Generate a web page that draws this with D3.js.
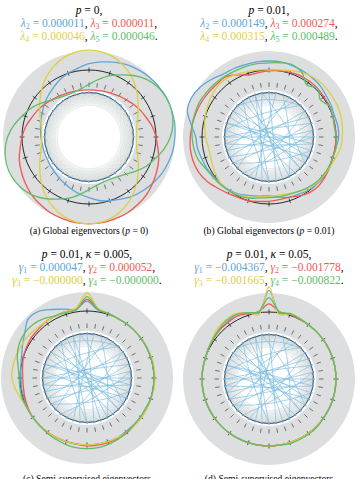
<!DOCTYPE html>
<html>
<head>
<meta charset="utf-8">
<script src="https://cdn.jsdelivr.net/npm/d3@7"></script>
<style>
  body { margin: 0; background: #fff; }
  svg { display: block; font-family: "Liberation Serif", "DejaVu Serif", serif; }
</style>
</head>
<body>
<div id="vis"></div>
<script>
const FRAME_WIDTH = 359;
const FRAME_HEIGHT = 479;

const N_NODES = 40;
const RING_K = 10;
const COLORS = ["#5DA5DA", "#F15854", "#DECF3F", "#60BD68"];

// title / caption text
const pValues = ["0", "0.01", "0.01", "0.01"];
const kappaValues = [null, null, "0.005", "0.05"];
const symbols = ["λ", "λ", "γ", "γ"];
const subscripts = [["2", "3", "4", "5"], ["2", "3", "4", "5"], ["1", "2", "3", "4"], ["1", "2", "3", "4"]];
const eigA = ["0.000011", "0.000011", "0.000046", "0.000046"];
const eigB = ["0.000149", "0.000274", "0.000315", "0.000489"];
const eigC = ["0.000047", "0.000052", "−0.000000", "−0.000000"];
const eigD = ["−0.004367", "−0.001778", "−0.001665", "−0.000822"];
const captions = [
  ["(a) Global eigenvectors (", "p", " = 0)"],
  ["(b) Global eigenvectors (", "p", " = 0.01)"],
  ["(c) Semi-supervised eigenvectors"],
  ["(d) Semi-supervised eigenvectors"]
];

// eigenvector entries, one per node (node 0 at top, clockwise)
const vecA1 = [0.07,0.10,0.13,0.16,0.18,0.20,0.21,0.22,0.22,0.22,0.21,0.20,0.18,0.16,0.13,0.10,0.07,0.03,0.00,-0.03,-0.07,-0.10,-0.13,-0.16,-0.18,-0.20,-0.21,-0.22,-0.22,-0.22,-0.21,-0.20,-0.18,-0.16,-0.13,-0.10,-0.07,-0.03,0.00,0.03];
const vecA2 = [-0.22,-0.22,-0.21,-0.20,-0.18,-0.16,-0.13,-0.10,-0.07,-0.03,0.00,0.03,0.07,0.10,0.13,0.16,0.18,0.20,0.21,0.22,0.22,0.22,0.21,0.20,0.18,0.16,0.13,0.10,0.07,0.03,0.00,-0.03,-0.07,-0.10,-0.13,-0.16,-0.18,-0.20,-0.21,-0.22];
const vecA3 = [0.22,0.21,0.18,0.13,0.07,0.00,-0.07,-0.13,-0.18,-0.21,-0.22,-0.21,-0.18,-0.13,-0.07,0.00,0.07,0.13,0.18,0.21,0.22,0.21,0.18,0.13,0.07,0.00,-0.07,-0.13,-0.18,-0.21,-0.22,-0.21,-0.18,-0.13,-0.07,0.00,0.07,0.13,0.18,0.21];
const vecA4 = [-0.16,-0.10,-0.03,0.03,0.10,0.16,0.20,0.22,0.22,0.20,0.16,0.10,0.03,-0.03,-0.10,-0.16,-0.20,-0.22,-0.22,-0.20,-0.16,-0.10,-0.03,0.03,0.10,0.16,0.20,0.22,0.22,0.20,0.16,0.10,0.03,-0.03,-0.10,-0.16,-0.20,-0.22,-0.22,-0.20];

const vecB1 = [0.10,0.10,0.09,0.08,0.07,0.06,0.04,0.03,0.02,0.03,0.03,0.01,0.00,0.01,0.01,0.00,-0.01,-0.03,-0.04,-0.07,-0.09,-0.08,-0.06,-0.03,-0.01,0.00,0.01,0.03,0.04,0.06,0.07,0.13,0.21,0.22,0.20,0.16,0.12,0.11,0.10,0.10];
const vecB2 = [-0.01,0.00,0.01,0.02,0.02,0.02,0.01,0.01,0.00,0.00,0.00,0.00,0.00,0.01,0.02,0.03,0.02,-0.01,-0.04,-0.04,-0.03,-0.02,0.00,0.01,0.03,0.06,0.10,0.13,0.14,0.14,0.13,0.12,0.11,0.10,0.09,0.08,0.08,0.03,-0.02,-0.02];
const vecB3 = [0.00,0.01,0.03,0.06,0.08,0.09,0.09,0.09,0.09,0.08,0.07,0.06,0.03,0.01,0.00,-0.01,-0.03,-0.06,-0.08,-0.09,-0.08,-0.07,-0.04,-0.02,0.00,0.00,-0.02,-0.04,-0.06,-0.06,-0.04,-0.02,0.00,0.02,0.04,0.06,0.06,0.04,0.02,0.01];
const vecB4 = [0.08,0.09,0.10,0.06,-0.03,0.02,-0.04,0.01,0.00,-0.01,0.00,0.01,0.00,0.00,-0.01,-0.02,-0.04,-0.06,-0.07,-0.07,-0.07,-0.06,-0.03,-0.01,0.00,0.01,0.02,0.04,0.08,0.10,0.11,0.12,0.12,0.12,0.11,0.10,0.09,0.08,0.08,0.08];

const vecC1 = [0.11,0.02,0.01,0,0,0,0,0,0,0,0,0,0,-0.01,-0.01,-0.01,-0.01,0,0,0,0,0,0,0,0,0,0,0,-0.01,-0.01,-0.01,0,0.02,0.06,0.11,0.18,0.17,0.11,0.06,0.03];
const vecC2 = [0.13,0.03,0.01,0,0,0,0,0,0,0,0,0,0,0,0,0,0.01,0.01,0.01,0.01,0.01,0,0,0,0,0,0,-0.01,-0.02,-0.03,-0.03,-0.02,0,0.01,0.02,0.02,0.03,0.03,0.03,0.03];
const vecC3 = [0.20,0.04,0.01,0,0,0,0,0,0.01,0.01,0.01,0.01,0,0,0,0,0,0,0,0,0,0,0,0,0,0,0,0,0.02,0.06,0.09,0.09,0.08,0.07,0.06,0.04,0.03,0.03,0.03,0.04];
const vecC4 = [0.16,0.03,0.01,0,0,0,0,0,0,0,0,0,0,-0.01,-0.01,-0.01,0,0.02,0.03,0.04,0.04,0.04,0.03,0.02,0.01,0,0,0,0.01,0.01,0.01,0.03,0.07,0.10,0.11,0.10,0.07,0.03,0.02,0.02];

const vecD1 = [0.24,0,0.01,0.01,0,0,0,0,0,0,0,0,0,0,0,0,0,0,0,0,0,0,0,0,0,0,0,0,0,0,0,0,0,0.01,0.02,0.03,0.04,0.06,0.03,0];
const vecD2 = [0.09,0.01,0.01,0,0,0,0,0,0,0,0,0,0,0,0,0,0,0,0,0,0,0,0,0,0,0,0,0,0,0,0,0,0,0.01,0.02,0.03,0.03,0.04,0.02,0.01];
const vecD3 = [0.28,-0.02,0.02,0.01,0,0,0,0,0,0,0,0,0,0,0,0,0,0,0,0,0,0,0,0,0,0,0,0,0,0,0,0,0,0.01,0.03,0.06,0.07,0.07,0.03,-0.02];
const vecD4 = [0.16,0.01,0.02,0.01,0,0,0,0,0,0,0,0,0,0,0,0.01,0.01,0.01,0.01,0,0,0,0,0,0,0,0,0,0,0,0,0,0,0.01,0.02,0.04,0.06,0.06,0.03,0.01];

// rewired long-range edges (node pairs), shared by panels b-d
const randomEdges = [[0,19],[1,22],[2,17],[3,25],[4,28],[5,31],[6,27],[7,29],[8,30],[9,28],[10,27],[11,29],[11,32],[12,26],[13,31],[14,33],[15,35],[16,34],[17,37],[18,38],[20,36],[21,39],[23,6],[24,9],[26,8],[30,10],[32,12],[34,13],[36,15],[38,20],[39,14],[35,5]];

const PANELS = [
  {cx: 89, cy: 137, titleY: 14, capY: 234, eig: eigA, vecs: [vecA1, vecA2, vecA3, vecA4], rewired: false},
  {cx: 269, cy: 137, titleY: 14, capY: 234, eig: eigB, vecs: [vecB1, vecB2, vecB3, vecB4], rewired: true},
  {cx: 87, cy: 378, titleY: 258, capY: 482, eig: eigC, vecs: [vecC1, vecC2, vecC3, vecC4], rewired: true},
  {cx: 269, cy: 379, titleY: 258, capY: 482, eig: eigD, vecs: [vecD1, vecD2, vecD3, vecD4], rewired: true}
];

const R_DISK = 86;
const R_WHITE = 47;
const R_NODE = 44.5;
const R0 = 67;

const FRAME = d3.select("#vis")
  .append("svg")
    .attr("width", FRAME_WIDTH)
    .attr("height", FRAME_HEIGHT);

const ANGLE = d3.scaleLinear().domain([0, N_NODES]).range([0, 2 * Math.PI]);
const R_SCALE = d3.scaleLinear().domain([0, 1]).range([R0, R0 + 90]);

function polar(r, a) {
  return [r * Math.sin(a), -r * Math.cos(a)];
}

function addTitle(g, k, y) {
  const title = g.append("text")
    .attr("text-anchor", "middle")
    .attr("y", y)
    .attr("font-size", 11.5);
  const l1 = title.append("tspan").attr("x", 0);
  l1.append("tspan").attr("font-style", "italic").text("p");
  l1.append("tspan").text(" = " + pValues[k] + ",");
  if (kappaValues[k] !== null) {
    l1.append("tspan").attr("font-style", "italic").text(" κ");
    l1.append("tspan").text(" = " + kappaValues[k] + ",");
  }
  const eig = PANELS[k].eig;
  [[0, 1, ","], [2, 3, "."]].forEach((pair, li) => {
    const line = title.append("tspan").attr("x", 0).attr("dy", li === 0 ? 13 : 12.5);
    pair.slice(0, 2).forEach((j, jj) => {
      if (jj === 1) line.append("tspan").attr("fill", "#000").text(", ");
      const seg = line.append("tspan").attr("fill", COLORS[j]);
      seg.append("tspan").attr("font-style", "italic").text(symbols[k]);
      seg.append("tspan").attr("font-size", 8).attr("dy", 2).text(subscripts[k][j]);
      seg.append("tspan").attr("dy", -2).text(" = " + eig[j]);
    });
    line.append("tspan").attr("fill", "#000").text(pair[2]);
  });
}

function addCaption(g, k, y) {
  const cap = g.append("text")
    .attr("text-anchor", "middle")
    .attr("y", y)
    .attr("font-size", 9.6);
  captions[k].forEach((s, i) => {
    cap.append("tspan").attr("font-style", i === 1 ? "italic" : null).text(s);
  });
}

function drawPanel(panel, k) {
  const top = FRAME.append("g").attr("transform", `translate(${panel.cx},0)`);
  addTitle(top, k, panel.titleY);
  addCaption(top, k, panel.capY);

  const g = FRAME.append("g").attr("transform", `translate(${panel.cx},${panel.cy})`);

  g.append("circle").attr("r", R_DISK).attr("fill", "#dcdedf");
  g.append("circle").attr("r", R_WHITE).attr("fill", "#fff");

  const nodes = d3.range(N_NODES).map(i => polar(R_NODE, ANGLE(i)));

  // ring lattice edges
  const lattice = [];
  nodes.forEach((p, i) => {
    for (let s = 1; s <= RING_K; s++) lattice.push([i, (i + s) % N_NODES]);
  });
  g.append("g")
    .selectAll("line")
    .data(lattice)
    .enter()
    .append("line")
      .attr("x1", d => nodes[d[0]][0]).attr("y1", d => nodes[d[0]][1])
      .attr("x2", d => nodes[d[1]][0]).attr("y2", d => nodes[d[1]][1])
      .attr("stroke", "#c4c7ca")
      .attr("stroke-opacity", 0.3)
      .attr("stroke-width", 0.5);

  if (panel.rewired) {
    g.append("g")
      .selectAll("path")
      .data(randomEdges)
      .enter()
      .append("path")
        .attr("d", d => {
          const a = nodes[d[0]], b = nodes[d[1]];
          const p = d3.path();
          p.moveTo(a[0], a[1]);
          p.quadraticCurveTo((a[0] + b[0]) * 0.7, (a[1] + b[1]) * 0.7, b[0], b[1]);
          return p.toString();
        })
        .attr("fill", "none")
        .attr("stroke", "#74b9dd")
        .attr("stroke-opacity", 0.9)
        .attr("stroke-width", 0.7);
  }

  g.append("circle").attr("r", R_NODE).attr("fill", "none").attr("stroke", "#26313d").attr("stroke-width", 0.9);
  g.append("g")
    .selectAll("circle")
    .data(nodes)
    .enter()
    .append("circle")
      .attr("cx", d => d[0]).attr("cy", d => d[1])
      .attr("r", 1.2)
      .attr("fill", "#5DA5DA");

  // radial ticks outside the node ring
  g.append("g")
    .selectAll("line")
    .data(d3.range(N_NODES))
    .enter()
    .append("line")
      .attr("x1", i => polar(50, ANGLE(i))[0]).attr("y1", i => polar(50, ANGLE(i))[1])
      .attr("x2", i => polar(54.5, ANGLE(i))[0]).attr("y2", i => polar(54.5, ANGLE(i))[1])
      .attr("stroke", "#222")
      .attr("stroke-width", 0.6);

  // zero level circle with ticks
  g.append("circle").attr("r", R0).attr("fill", "none").attr("stroke", "#111").attr("stroke-width", 0.9);
  g.append("g")
    .selectAll("line")
    .data(d3.range(0, N_NODES, 2))
    .enter()
    .append("line")
      .attr("x1", i => polar(R0 - 2.5, ANGLE(i))[0]).attr("y1", i => polar(R0 - 2.5, ANGLE(i))[1])
      .attr("x2", i => polar(R0 + 2.5, ANGLE(i))[0]).attr("y2", i => polar(R0 + 2.5, ANGLE(i))[1])
      .attr("stroke", "#111")
      .attr("stroke-width", 0.7);

  const line = d3.lineRadial()
    .angle((d, i) => ANGLE(i))
    .radius(d => R_SCALE(d))
    .curve(d3.curveCatmullRomClosed.alpha(0.5));

  g.append("g")
    .selectAll("path")
    .data(panel.vecs)
    .enter()
    .append("path")
      .attr("d", d => line(d))
      .attr("fill", "none")
      .attr("stroke", (d, i) => COLORS[i])
      .attr("stroke-width", 1.3);
}

PANELS.forEach(drawPanel);
</script>
</body>
</html>
